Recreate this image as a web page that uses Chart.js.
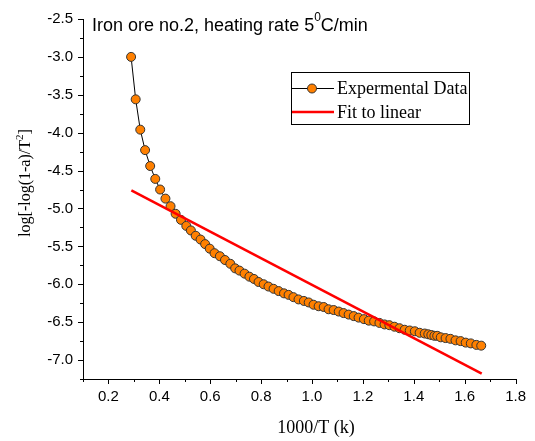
<!DOCTYPE html>
<html lang="en">
<head>
<meta charset="UTF-8">
<title>Iron ore no.2, heating rate</title>
<script src="https://cdn.jsdelivr.net/npm/chart.js"></script>
<style>
  html, body { margin: 0; padding: 0; background: #fff; }
  #wrap { width: 535px; height: 441px; }
</style>
</head>
<body>
<div id="wrap"><canvas id="chart" width="535" height="441"></canvas></div>
<script>
// 1000/T values
const invT = [0.289, 0.307, 0.325, 0.344, 0.364, 0.384, 0.403, 0.424, 0.444, 0.464,
  0.485, 0.506, 0.524, 0.543, 0.562, 0.580, 0.598, 0.617, 0.638, 0.658,
  0.679, 0.698, 0.715, 0.735, 0.754, 0.772, 0.790, 0.810, 0.829, 0.849,
  0.869, 0.890, 0.908, 0.927, 0.947, 0.968, 0.987, 1.006, 1.026, 1.046,
  1.065, 1.085, 1.105, 1.124, 1.144, 1.164, 1.183, 1.204, 1.223, 1.244,
  1.265, 1.285, 1.304, 1.324, 1.344, 1.364, 1.384, 1.404, 1.423, 1.443,
  1.457, 1.469, 1.481, 1.492, 1.506, 1.525, 1.544, 1.564, 1.584, 1.604,
  1.624, 1.646, 1.665];
// log[-log(1-a)/T^2]
const logVal = [-3.00, -3.56, -3.96, -4.23, -4.44, -4.61, -4.75, -4.87, -4.97, -5.07,
  -5.15, -5.23, -5.29, -5.36, -5.41, -5.47, -5.53, -5.59, -5.63, -5.68,
  -5.73, -5.79, -5.82, -5.86, -5.90, -5.93, -5.97, -6.00, -6.03, -6.06,
  -6.09, -6.12, -6.14, -6.17, -6.20, -6.22, -6.24, -6.27, -6.29, -6.30,
  -6.33, -6.34, -6.36, -6.38, -6.40, -6.42, -6.44, -6.46, -6.48, -6.49,
  -6.51, -6.53, -6.54, -6.56, -6.58, -6.60, -6.61, -6.62, -6.64, -6.65,
  -6.66, -6.67, -6.68, -6.68, -6.70, -6.71, -6.72, -6.74, -6.75, -6.77,
  -6.78, -6.80, -6.81];
// linear fit end points
const fitX = [0.29, 1.667];
const fitY = [-4.76, -7.18];

const xTicks = { min: 0.1, max: 1.8, step: 0.1 };
const yTicks = { min: -7.25, max: -2.5, step: 0.25 };

const seriesNames = ['Expermental Data', 'Fit to linear'];
const chartTitle = 'Iron ore no.2, heating rate 5';
const xTitle = '1000/T (k)';
const yTitle = 'log[-log(1-a)/T';

const ORANGE = '#ff8000';

// outward tick marks, long for labelled ones
const tickMarks = {
  id: 'tickMarks',
  afterDraw(chart) {
    const ctx = chart.ctx, a = chart.chartArea;
    const xs = chart.scales.x, ys = chart.scales.y;
    ctx.save();
    ctx.strokeStyle = '#000';
    ctx.lineWidth = 1;
    ctx.beginPath();
    xs.ticks.forEach(t => {
      const px = Math.round(xs.getPixelForValue(t.value)) + 0.5;
      const len = t.label ? 5 : 3;
      ctx.moveTo(px, a.bottom);
      ctx.lineTo(px, a.bottom + len);
    });
    ys.ticks.forEach(t => {
      const py = Math.round(ys.getPixelForValue(t.value)) + 0.5;
      const len = t.label ? 5 : 3;
      ctx.moveTo(a.left, py);
      ctx.lineTo(a.left - len, py);
    });
    ctx.stroke();
    ctx.restore();
  }
};

// titles and legend box
const annotations = {
  id: 'annotations',
  afterDraw(chart) {
    const ctx = chart.ctx;
    ctx.save();
    ctx.fillStyle = '#000';
    ctx.textBaseline = 'alphabetic';
    ctx.textAlign = 'left';

    // top title with superscript 0
    ctx.font = '18px "Liberation Sans", Arial, sans-serif';
    let x = 92;
    ctx.fillText(chartTitle, x, 31);
    x += ctx.measureText(chartTitle).width;
    ctx.font = '12px "Liberation Sans", Arial, sans-serif';
    ctx.fillText('0', x, 21);
    x += ctx.measureText('0').width;
    ctx.font = '18px "Liberation Sans", Arial, sans-serif';
    ctx.fillText('C/min', x, 31);

    // x axis title
    ctx.textAlign = 'center';
    ctx.textBaseline = 'middle';
    ctx.font = '18px "Liberation Serif", "Times New Roman", serif';
    ctx.fillText(xTitle, 316, 428);

    // y axis title, rotated, with superscript 2
    ctx.save();
    ctx.translate(30, 183);
    ctx.rotate(-Math.PI / 2);
    ctx.textAlign = 'left';
    ctx.textBaseline = 'alphabetic';
    const big = '16px "Liberation Serif", "Times New Roman", serif';
    const small = '11px "Liberation Serif", "Times New Roman", serif';
    ctx.font = big;
    const w1 = ctx.measureText(yTitle).width;
    const w3 = ctx.measureText(']').width;
    ctx.font = small;
    const w2 = ctx.measureText('2').width;
    let tx = -(w1 + w2 + w3) / 2;
    ctx.font = big;
    ctx.fillText(yTitle, tx, 0);
    tx += w1;
    ctx.font = small;
    ctx.fillText('2', tx, -7);
    tx += w2;
    ctx.font = big;
    ctx.fillText(']', tx, 0);
    ctx.restore();

    // legend
    const bx = 291, by = 72, bw = 178, bh = 52;
    ctx.strokeStyle = '#000';
    ctx.lineWidth = 1;
    ctx.strokeRect(bx + 0.5, by + 0.5, bw, bh);
    const ds = chart.data.datasets;
    const rows = [88, 112];
    ctx.textAlign = 'left';
    ctx.textBaseline = 'middle';
    ctx.font = '18px "Liberation Serif", "Times New Roman", serif';
    // row 1: line + marker
    ctx.beginPath();
    ctx.strokeStyle = ds[1].borderColor;
    ctx.lineWidth = 1;
    ctx.moveTo(bx + 1, rows[0] + 0.5);
    ctx.lineTo(bx + 43, rows[0] + 0.5);
    ctx.stroke();
    ctx.beginPath();
    ctx.arc(bx + 21, rows[0] + 0.5, 4.5, 0, Math.PI * 2);
    ctx.fillStyle = ds[1].pointBackgroundColor;
    ctx.fill();
    ctx.strokeStyle = ds[1].pointBorderColor;
    ctx.stroke();
    ctx.fillStyle = '#000';
    ctx.fillText(ds[1].label, bx + 46, rows[0] + 1);
    // row 2: red line
    ctx.beginPath();
    ctx.strokeStyle = ds[0].borderColor;
    ctx.lineWidth = ds[0].borderWidth;
    ctx.moveTo(bx + 1, rows[1]);
    ctx.lineTo(bx + 43, rows[1]);
    ctx.stroke();
    ctx.fillText(ds[0].label, bx + 46, rows[1] + 1);
    ctx.restore();
  }
};

const ctx = document.getElementById('chart').getContext('2d');
new Chart(ctx, {
  type: 'scatter',
  data: {
    datasets: [{
      label: seriesNames[1],
      data: fitX.map((v, i) => ({ x: v, y: fitY[i] })),
      showLine: true,
      borderColor: '#ff0000',
      borderWidth: 2.5,
      pointRadius: 0,
      order: 0
    }, {
      label: seriesNames[0],
      data: invT.map((v, i) => ({ x: v, y: logVal[i] })),
      showLine: true,
      borderColor: '#000',
      borderWidth: 1,
      pointRadius: 4.5,
      pointBackgroundColor: ORANGE,
      pointBorderColor: '#333',
      pointBorderWidth: 1,
      order: 1
    }]
  },
  options: {
    responsive: false,
    animation: false,
    devicePixelRatio: 1,
    layout: { padding: { top: 15, right: 18, left: 0, bottom: 0 } },
    plugins: { legend: { display: false }, tooltip: { enabled: false } },
    scales: {
      x: {
        type: 'linear',
        min: xTicks.min,
        max: xTicks.max,
        grid: { drawOnChartArea: false, drawTicks: false },
        border: { color: '#000', width: 1 },
        ticks: {
          stepSize: xTicks.step,
          autoSkip: false,
          maxRotation: 0,
          padding: 9,
          color: '#000',
          font: { family: '"Liberation Sans", Arial, sans-serif', size: 15 },
          callback: v => Math.round(v * 10) % 2 === 0 ? v.toFixed(1) : ''
        },
        afterFit: s => { s.height = 62; }
      },
      y: {
        type: 'linear',
        min: yTicks.min,
        max: yTicks.max,
        grid: { drawOnChartArea: false, drawTicks: false },
        border: { color: '#000', width: 1 },
        ticks: {
          stepSize: yTicks.step,
          autoSkip: false,
          padding: 10,
          color: '#000',
          font: { family: '"Liberation Sans", Arial, sans-serif', size: 15 },
          callback: v => Math.round(v * 4) % 2 === 0 ? v.toFixed(1) : ''
        },
        afterFit: s => { s.width = 83; }
      }
    }
  },
  plugins: [tickMarks, annotations]
});
</script>
</body>
</html>
